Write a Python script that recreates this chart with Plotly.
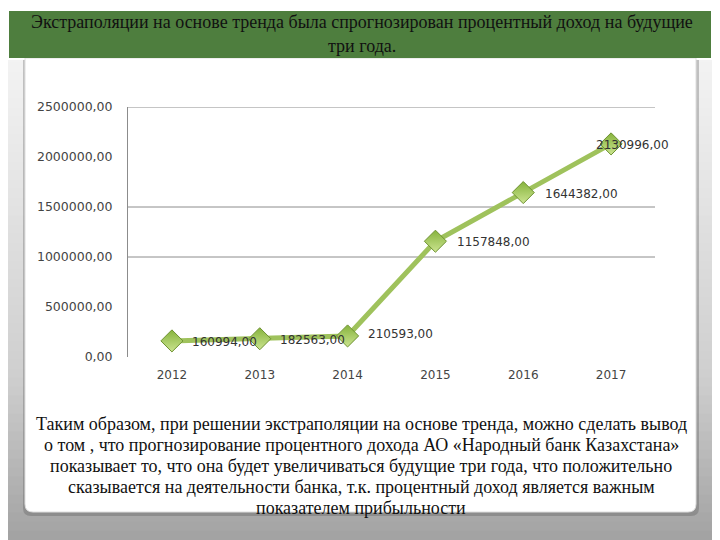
import plotly.graph_objects as go

years = ["2012", "2013", "2014", "2015", "2016", "2017"]
income = [160994, 182563, 210593, 1157848, 1644382, 2130996]
labels = ["160994,00", "182563,00", "210593,00", "1157848,00", "1644382,00", "2130996,00"]
label_shift = [18, 18, 18, 20, 20, -17]
label_yshift = [-1, -1, 2, -1, -1, -1]
ytick_vals = [0, 500000, 1000000, 1500000, 2000000, 2500000]
ytick_text = ["0,00", "500000,00", "1000000,00", "1500000,00", "2000000,00", "2500000,00"]
grid_levels = [1000000, 1500000, 2500000]

title_lines = ["Экстраполяции на основе тренда была спрогнозирован процентный доход на будущие",
               "три года."]
body_lines = ["Таким образом, при решении экстраполяции на основе тренда, можно сделать вывод",
              "о том , что прогнозирование процентного дохода АО «Народный банк Казахстана»",
              "показывает то, что она будет увеличиваться будущие три года, что положительно",
              "сказывается на деятельности банка, т.к. процентный доход является важным",
              "показателем прибыльности"]

W, H = 720, 540
OFF = 8  # page body margin offset
PL, PR, PT, PB = 128 - OFF, 655 - OFF, 107 - OFF, 357 - OFF  # plot area in figure px

def px_x(x):
    return (x - OFF - PL) / (PR - PL)
def px_y(y):
    return (PB - (y - OFF)) / (PB - PT)

shapes = []

def lerp(a, b, t):
    return a + (b - a) * t
stops = [(0, 250), (380, 206), (540, 162)]
n = 60
for i in range(n):
    y0 = H * i / n
    y1 = H * (i + 1) / n
    ym = (y0 + y1) / 2
    if ym <= stops[1][0]:
        g = lerp(stops[0][1], stops[1][1], ym / stops[1][0])
    else:
        g = lerp(stops[1][1], stops[2][1], (ym - stops[1][0]) / (stops[2][0] - stops[1][0]))
    g = int(round(g))
    shapes.append(dict(type="rect", xref="paper", yref="paper",
                       x0=px_x(-20), x1=px_x(760), y0=px_y(y1 + 0.5), y1=px_y(y0 - 0.5),
                       fillcolor=f"rgb({g},{g},{g})", line=dict(width=0), layer="below"))

def rounded_panel(x0, y0, x1, y1, r):
    def P(x, y):
        return f"{px_x(x)},{px_y(y)}"
    return (f"M {P(x0, y0)} L {P(x1, y0)} L {P(x1, y1 - r)} "
            f"Q {P(x1, y1)} {P(x1 - r, y1)} L {P(x0 + r, y1)} "
            f"Q {P(x0, y1)} {P(x0, y1 - r)} Z")

shapes.append(dict(type="rect", xref="paper", yref="paper",
                   x0=px_x(0), x1=px_x(720), y0=px_y(60), y1=px_y(0),
                   fillcolor="white", line=dict(width=0), layer="below"))
shapes.append(dict(type="path", xref="paper", yref="paper",
                   path=rounded_panel(23, 60, 699, 516, 8),
                   fillcolor="rgba(80,80,80,0.30)", line=dict(width=0), layer="below"))
shapes.append(dict(type="path", xref="paper", yref="paper",
                   path=rounded_panel(25, 58, 696, 512, 8),
                   fillcolor="white", line=dict(color="#dedede", width=1), layer="below"))
shapes.append(dict(type="rect", xref="paper", yref="paper",
                   x0=px_x(9), x1=px_x(711), y0=px_y(58), y1=px_y(11),
                   fillcolor="#4e7e3e", line=dict(width=0), layer="below"))

for lvl in grid_levels:
    shapes.append(dict(type="line", xref="paper", yref="y", x0=0, x1=1, y0=lvl, y1=lvl,
                       line=dict(color="#8c8c8c", width=1), layer="below"))

fig = go.Figure()
fig.add_trace(go.Scatter(
    x=years, y=income, mode="lines+markers",
    line=dict(color="#9fc25c", width=5),
    marker=dict(symbol="diamond", size=17, color="#86b33c",
                gradient=dict(type="vertical", color="#cbe490"),
                line=dict(color="#6d9130", width=1)),
    cliponaxis=False, showlegend=False, hoverinfo="skip"))

annotations = []
for idx, (v, lab, xs, ys) in enumerate(zip(income, labels, label_shift, label_yshift)):
    annotations.append(dict(x=idx, y=v, xref="x", yref="y", text=lab, showarrow=False,
                            xanchor="left", yanchor="middle", xshift=xs, yshift=ys,
                            font=dict(family="DejaVu Sans", size=12, color="#333333")))

for i, line in enumerate(title_lines):
    annotations.append(dict(x=px_x(362), y=px_y(22 + 24 * i), xref="paper", yref="paper",
                            text=line, showarrow=False, xanchor="center", yanchor="middle",
                            font=dict(family="Liberation Serif", size=18, color="#111111")))
for i, line in enumerate(body_lines):
    annotations.append(dict(x=px_x(361), y=px_y(424 + 21 * i), xref="paper", yref="paper",
                            text=line, showarrow=False, xanchor="center", yanchor="middle",
                            font=dict(family="Liberation Serif", size=18, color="#111111")))

fig.update_layout(
    width=W, height=H,
    margin=dict(l=PL, r=W - PR, t=PT, b=H - PB),
    paper_bgcolor="#cccccc", plot_bgcolor="rgba(0,0,0,0)",
    shapes=shapes, annotations=annotations,
    xaxis=dict(type="category", range=[-0.5, 5.5], showgrid=False, zeroline=False, showline=False,
               ticks="outside", ticklen=7, tickcolor="rgba(0,0,0,0)",
               tickfont=dict(family="DejaVu Sans", size=12, color="#444444")),
    yaxis=dict(range=[0, 2500000], tickvals=ytick_vals, ticktext=ytick_text,
               showgrid=False, zeroline=False, showline=True, linecolor="#8c8c8c", linewidth=1,
               ticks="outside", ticklen=12, tickcolor="rgba(0,0,0,0)",
               tickfont=dict(family="DejaVu Sans", size=12.5, color="#444444")),
)

fig.write_html("out.html")
